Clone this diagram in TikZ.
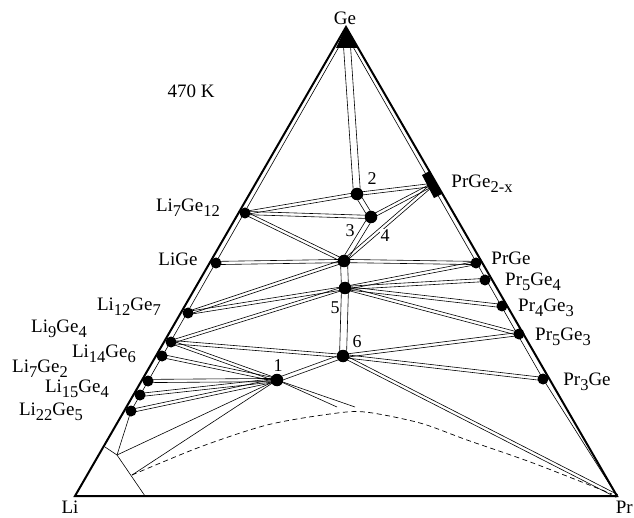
\documentclass[tikz,border=0pt]{standalone}
\usepackage{fontspec}
\setmainfont{Liberation Serif}
\usetikzlibrary{calc}
\newcommand\sbs[1]{\raisebox{-5pt}{\fontsize{16.5}{16.5}\selectfont #1}}
\newcommand\tiepair[3][1.6pt]{%
  \draw[tie] ($(#2)!#1!90:(#3)$) -- ($(#3)!#1!-90:(#2)$);
  \draw[tie] ($(#2)!#1!-90:(#3)$) -- ($(#3)!#1!90:(#2)$);}
\begin{document}
\begin{tikzpicture}[x=1pt,y=-1pt,
  edge/.style={line width=2pt, line join=miter},
  tie/.style={line width=0.6pt},
  dot/.style={circle, fill=black, inner sep=0pt, minimum size=11pt},
  tdot/.style={circle, fill=black, inner sep=0pt, minimum size=12.5pt},
  lab/.style={font=\fontsize{19}{21}\selectfont, inner sep=0pt, anchor=base},
  num/.style={font=\fontsize{18}{20}\selectfont, inner sep=0pt, anchor=base}]
\useasboundingbox (0,0) rectangle (634,518);
% corners
\coordinate (Ge) at (346,27);
\coordinate (Li) at (75,496);
\coordinate (Pr) at (617,496);
\coordinate (gt1) at (336,48);
\coordinate (gt2) at (358,48);
\coordinate (gt) at (347,46);
\coordinate (lg0) at (340,45);
\coordinate (rg0) at (352,45);
% Li-Ge compounds
\coordinate (A) at (245,213);
\coordinate (B) at (216,263);
\coordinate (C) at (188,313);
\coordinate (D) at (171,342);
\coordinate (E) at (162,356);
\coordinate (F) at (148,381);
\coordinate (H) at (140,395);
\coordinate (I) at (131,411);
% Pr-Ge compounds
\coordinate (P2) at (432,185);
\coordinate (pb1) at (426,173);
\coordinate (pb2) at (438,196);
\coordinate (P1) at (476,263);
\coordinate (P54) at (485,280);
\coordinate (P43) at (502,306);
\coordinate (P53) at (519,334);
\coordinate (P3) at (543,379);
% ternary
\coordinate (T2) at (357,194);
\coordinate (T34) at (371,217);
\coordinate (X) at (344,261);
\coordinate (Y) at (345,288);
\coordinate (T6) at (343,356);
\coordinate (T1) at (277,380);
% Li corner
\coordinate (L0) at (105,447);
\coordinate (L1) at (117,455);
\coordinate (L2) at (132,475);
\coordinate (L3) at (145,496);
\coordinate (S1) at (337,407);
\coordinate (S2) at (355,407);

% inner lines
\draw[tie] (lg0) -- (I) -- (L1);
\draw[tie] (rg0) -- (P3) -- (Pr);
\draw[tie] (L0) -- (L1) -- (L3);

% tie strips
\tiepair[3.5pt]{gt}{T2}
\tiepair{A}{T2}
\tiepair{T2}{P2}
\tiepair[2.5pt]{T2}{T34}
\tiepair{A}{T34}
\tiepair{T34}{P2}
\tiepair[2.5pt]{T34}{X}
\tiepair{A}{X}
\tiepair{X}{P2}
\tiepair{X}{B}
\tiepair{X}{P1}
\tiepair{X}{C}
\tiepair[3.5pt]{X}{Y}
\tiepair{C}{Y}
\tiepair{Y}{P1}
\tiepair{Y}{P54}
\tiepair{Y}{P43}
\tiepair{Y}{P53}
\tiepair{Y}{D}
\tiepair[3.5pt]{Y}{T6}
\tiepair{D}{T6}
\tiepair{T6}{P53}
\tiepair{T6}{P3}
\tiepair{T6}{Pr}
\tiepair[2pt]{T6}{T1}
\tiepair{D}{T1}
\tiepair{E}{T1}
\tiepair{F}{T1}
\tiepair{H}{T1}
\tiepair{I}{T1}
\draw[tie] (T1) -- (S1);
\draw[tie] (T1) -- (S2);
\draw[tie] (T1) -- (L1);
\draw[tie] (T1) -- (L2);

% dashed boundary
\draw[line width=0.7pt, dash pattern=on 5pt off 3.5pt] plot[smooth] coordinates
  {(132,475) (200,447) (267,425) (330,414) (365,412) (420,423) (467,440) (533,463) (612,494)};

% outer triangle
\draw[edge] (Ge) -- (Li) -- (Pr) -- cycle;
\fill (Ge) -- (gt1) -- (gt2) -- cycle;
\draw[line width=9pt] (pb1) -- (pb2);

% dots
\foreach \p in {A,B,C,D,E,F,H,I,P1,P54,P43,P53,P3}
  \node[dot] (d\p) at (\p) {};
\foreach \p in {T2,T34,X,Y,T6,T1}
  \node[tdot] (d\p) at (\p) {};

% labels
\node[lab] (lGe) at (345,25) {Ge};
\node[lab] (lLi) at (70,513) {Li};
\node[lab, anchor=base east] (lPr) at (633,513) {Pr};
\node[lab] (lT) at (191,98) {470 K};
\node[lab] (lA) at (188,212) {Li\sbs{7}Ge\sbs{12}};
\node[lab] (lB) at (178,266) {LiGe};
\node[lab] (lC) at (129,311) {Li\sbs{12}Ge\sbs{7}};
\node[lab] (lD) at (59,333) {Li\sbs{9}Ge\sbs{4}};
\node[lab] (lE) at (104,357) {Li\sbs{14}Ge\sbs{6}};
\node[lab] (lF) at (40,372) {Li\sbs{7}Ge\sbs{2}};
\node[lab] (lH) at (77,392) {Li\sbs{15}Ge\sbs{4}};
\node[lab] (lI) at (51,415) {Li\sbs{22}Ge\sbs{5}};
\node[lab] (lP2) at (482,188) {PrGe\sbs{2-x}};
\node[lab] (lP1) at (511,265) {PrGe};
\node[lab] (lP54) at (533,286) {Pr\sbs{5}Ge\sbs{4}};
\node[lab] (lP43) at (546,312) {Pr\sbs{4}Ge\sbs{3}};
\node[lab] (lP53) at (563,341) {Pr\sbs{5}Ge\sbs{3}};
\node[lab] (lP3) at (587,385) {Pr\sbs{3}Ge};
\node[num] (n2) at (372,185) {2};
\node[num] (n3) at (350,237) {3};
\node[num, fill=white, inner sep=1pt] (n4) at (385,242) {4};
\node[num] (n5) at (335,313) {5};
\node[num] (n6) at (357,348) {6};
\node[num] (n1) at (278,371) {1};
\end{tikzpicture}
\end{document}
